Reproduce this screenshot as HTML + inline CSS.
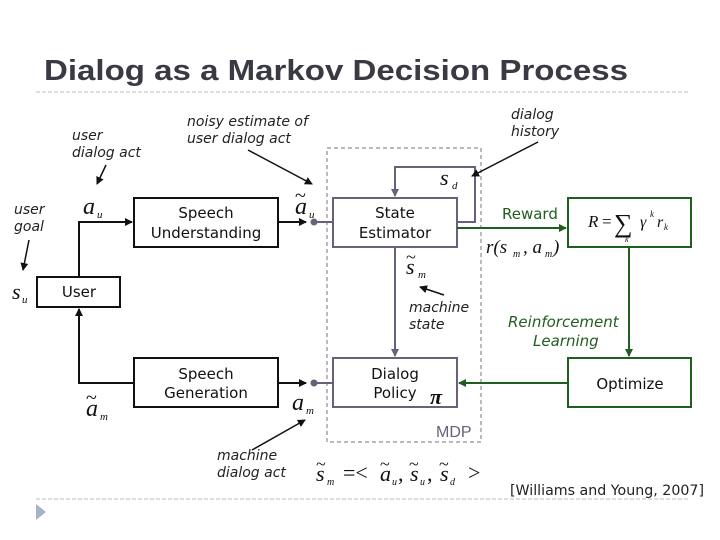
<!DOCTYPE html>
<html><head><meta charset="utf-8"><style>
body{margin:0;background:#fff;}
svg{display:block;}
text{font-family:"DejaVu Sans","Liberation Sans",sans-serif;}
.m{font-family:"Liberation Serif",serif;font-style:italic;}
.it{font-style:italic;font-size:14px;fill:#222;}
.b{font-size:15px;fill:#111;}
.t{font-family:"Liberation Serif",serif;}
</style></head><body>
<svg width="720" height="540" viewBox="0 0 720 540" xmlns="http://www.w3.org/2000/svg">
<defs>
<marker id="ak" markerWidth="8" markerHeight="8" refX="7" refY="4" orient="auto" markerUnits="userSpaceOnUse"><path d="M0,0 L8,4 L0,8 Z" fill="#111"/></marker>
<marker id="ag" markerWidth="8" markerHeight="8" refX="7" refY="4" orient="auto" markerUnits="userSpaceOnUse"><path d="M0,0 L8,4 L0,8 Z" fill="#1f5e1f"/></marker>
<marker id="ap" markerWidth="8" markerHeight="8" refX="7" refY="4" orient="auto" markerUnits="userSpaceOnUse"><path d="M0,0 L8,4 L0,8 Z" fill="#6a607a"/></marker>
</defs>
<text x="44" y="80" font-weight="bold" font-size="29" fill="#3a3a44" textLength="584" lengthAdjust="spacingAndGlyphs" style="font-family:'Liberation Sans',sans-serif">Dialog as a Markov Decision Process</text>
<line x1="36" y1="92" x2="690" y2="92" stroke="#b8bcc4" stroke-dasharray="4,2"/>
<line x1="36" y1="499" x2="690" y2="499" stroke="#b8bcc4" stroke-dasharray="4,2"/>
<path d="M36,504 L46,512 L36,520 Z" fill="#a4b4c8"/>

<rect x="327" y="148" width="154" height="294" fill="none" stroke="#777" stroke-dasharray="4,3"/>
<text x="436" y="437" font-size="16" fill="#6a607a" style="font-family:'Liberation Sans',sans-serif">MDP</text>

<rect x="134" y="198" width="144" height="49" fill="#fff" stroke="#111" stroke-width="2"/>
<text class="b" x="206" y="218" text-anchor="middle">Speech</text>
<text class="b" x="206" y="238" text-anchor="middle">Understanding</text>
<rect x="37" y="277" width="83" height="30" fill="#fff" stroke="#111" stroke-width="2"/>
<text class="b" x="79" y="297" text-anchor="middle">User</text>
<rect x="134" y="358" width="144" height="49" fill="#fff" stroke="#111" stroke-width="2"/>
<text class="b" x="206" y="379" text-anchor="middle">Speech</text>
<text class="b" x="206" y="398" text-anchor="middle">Generation</text>

<rect x="333" y="198" width="124" height="49" fill="#fff" stroke="#6a607a" stroke-width="2"/>
<text class="b" x="395" y="218" text-anchor="middle">State</text>
<text class="b" x="395" y="238" text-anchor="middle">Estimator</text>
<rect x="333" y="358" width="124" height="49" fill="#fff" stroke="#6a607a" stroke-width="2"/>
<text class="b" x="395" y="379" text-anchor="middle">Dialog</text>
<text class="b" x="395" y="398" text-anchor="middle">Policy</text>
<text class="m" x="430" y="404" font-size="22" font-weight="bold" fill="#111">π</text>

<rect x="568" y="198" width="123" height="49" fill="#fff" stroke="#1f5e1f" stroke-width="2"/>
<text class="m" x="588" y="227" font-size="17" fill="#111">R</text>
<text class="t" x="602" y="227" font-size="17" fill="#111">=</text>
<text class="t" x="614" y="232" font-size="26" fill="#111">∑</text>
<text class="m" x="625" y="242" font-size="8" fill="#111">k</text>
<text class="m" x="640" y="227" font-size="16" fill="#111">γ</text>
<text class="m" x="650" y="217" font-size="9" fill="#111">k</text>
<text class="m" x="657" y="227" font-size="16" fill="#111">r</text>
<text class="m" x="664" y="230" font-size="9" fill="#111">k</text>
<rect x="568" y="358" width="123" height="49" fill="#fff" stroke="#1f5e1f" stroke-width="2"/>
<text class="b" x="630" y="389" text-anchor="middle">Optimize</text>

<polyline points="79,277 79,222 132,222" fill="none" stroke="#111" stroke-width="2" marker-end="url(#ak)"/>
<line x1="278" y1="222" x2="306" y2="222" stroke="#111" stroke-width="2" marker-end="url(#ak)"/>
<line x1="314" y1="222" x2="333" y2="222" stroke="#6a607a" stroke-width="2"/>
<circle cx="314" cy="222" r="3.5" fill="#6a607a"/>
<polyline points="457,222 475,222 475,167 395,167 395,196" fill="none" stroke="#6a607a" stroke-width="2" marker-end="url(#ap)"/>
<line x1="395" y1="247" x2="395" y2="356" stroke="#6a607a" stroke-width="2" marker-end="url(#ap)"/>
<line x1="457" y1="228" x2="566" y2="228" stroke="#1f5e1f" stroke-width="2" marker-end="url(#ag)"/>
<line x1="629" y1="247" x2="629" y2="356" stroke="#1f5e1f" stroke-width="2" marker-end="url(#ag)"/>
<line x1="568" y1="383" x2="459" y2="383" stroke="#1f5e1f" stroke-width="2" marker-end="url(#ag)"/>
<line x1="314" y1="383" x2="333" y2="383" stroke="#6a607a" stroke-width="2"/>
<circle cx="314" cy="383" r="3.5" fill="#6a607a"/>
<line x1="278" y1="383" x2="306" y2="383" stroke="#111" stroke-width="2" marker-end="url(#ak)"/>
<polyline points="134,383 79,383 79,309" fill="none" stroke="#111" stroke-width="2" marker-end="url(#ak)"/>

<line x1="106" y1="165" x2="97" y2="184" stroke="#111" stroke-width="1.5" marker-end="url(#ak)"/>
<line x1="29" y1="240" x2="23" y2="270" stroke="#111" stroke-width="1.5" marker-end="url(#ak)"/>
<line x1="248" y1="150" x2="312" y2="184" stroke="#111" stroke-width="1.5" marker-end="url(#ak)"/>
<line x1="538" y1="142" x2="472" y2="176" stroke="#111" stroke-width="1.5" marker-end="url(#ak)"/>
<line x1="444" y1="295" x2="420" y2="287" stroke="#111" stroke-width="1.5" marker-end="url(#ak)"/>
<line x1="252" y1="450" x2="305" y2="420" stroke="#111" stroke-width="1.5" marker-end="url(#ak)"/>

<text class="it" x="72" y="140">user</text>
<text class="it" x="72" y="157">dialog act</text>
<text class="it" x="14" y="214">user</text>
<text class="it" x="14" y="231">goal</text>
<text class="it" x="187" y="126">noisy estimate of</text>
<text class="it" x="187" y="143">user dialog act</text>
<text class="it" x="511" y="119">dialog</text>
<text class="it" x="511" y="136">history</text>
<text class="it" x="409" y="312">machine</text>
<text class="it" x="409" y="329">state</text>
<text class="it" x="217" y="460">machine</text>
<text class="it" x="217" y="477">dialog act</text>
<text x="508" y="327" font-size="15" font-style="italic" fill="#1f5e1f">Reinforcement</text>
<text x="533" y="346" font-size="15" font-style="italic" fill="#1f5e1f">Learning</text>
<text x="502" y="219" font-size="15" fill="#1f5e1f">Reward</text>
<text x="510" y="495" font-size="14" fill="#222" textLength="194" lengthAdjust="spacingAndGlyphs">[Williams and Young, 2007]</text>

<text class="m" x="83" y="214" font-size="24" fill="#111">a</text><text class="m" x="97" y="218" font-size="11" fill="#111">u</text>
<text class="m" x="295" y="214" font-size="24" fill="#111">a</text><text class="m" x="309" y="218" font-size="11" fill="#111">u</text><text class="t" x="295" y="202" font-size="20" fill="#111">~</text>
<text class="m" x="12" y="299" font-size="22" fill="#111">s</text><text class="m" x="22" y="303" font-size="11" fill="#111">u</text>
<text class="m" x="440" y="185" font-size="22" fill="#111">s</text><text class="m" x="452" y="189" font-size="11" fill="#111">d</text>
<text class="m" x="406" y="274" font-size="22" fill="#111">s</text><text class="m" x="418" y="278" font-size="11" fill="#111">m</text><text class="t" x="406" y="263" font-size="18" fill="#111">~</text>
<text class="m" x="486" y="253" font-size="19" fill="#111">r(s</text><text class="m" x="513" y="257" font-size="10" fill="#111">m</text><text class="m" x="523" y="253" font-size="19" fill="#111">, a</text><text class="m" x="545" y="257" font-size="10" fill="#111">m</text><text class="m" x="553" y="253" font-size="19" fill="#111">)</text>
<text class="m" x="86" y="416" font-size="24" fill="#111">a</text><text class="m" x="100" y="420" font-size="11" fill="#111">m</text><text class="t" x="86" y="404" font-size="20" fill="#111">~</text>
<text class="m" x="292" y="410" font-size="24" fill="#111">a</text><text class="m" x="306" y="414" font-size="11" fill="#111">m</text>
<text class="m" x="316" y="481" font-size="22" fill="#111">s</text><text class="m" x="327" y="485" font-size="10" fill="#111">m</text><text class="t" x="316" y="470" font-size="18" fill="#111">~</text>
<text class="t" x="343" y="480" font-size="22" fill="#111">=&lt;</text>
<text class="m" x="380" y="481" font-size="22" fill="#111">a</text><text class="m" x="392" y="485" font-size="10" fill="#111">u</text><text class="t" x="380" y="470" font-size="18" fill="#111">~</text>
<text class="t" x="398" y="481" font-size="22" fill="#111">,</text>
<text class="m" x="410" y="481" font-size="22" fill="#111">s</text><text class="m" x="420" y="485" font-size="10" fill="#111">u</text><text class="t" x="409" y="470" font-size="18" fill="#111">~</text>
<text class="t" x="427" y="481" font-size="22" fill="#111">,</text>
<text class="m" x="440" y="481" font-size="22" fill="#111">s</text><text class="m" x="450" y="485" font-size="10" fill="#111">d</text><text class="t" x="439" y="470" font-size="18" fill="#111">~</text>
<text class="t" x="468" y="480" font-size="22" fill="#111">&gt;</text>
</svg>
</body></html>
